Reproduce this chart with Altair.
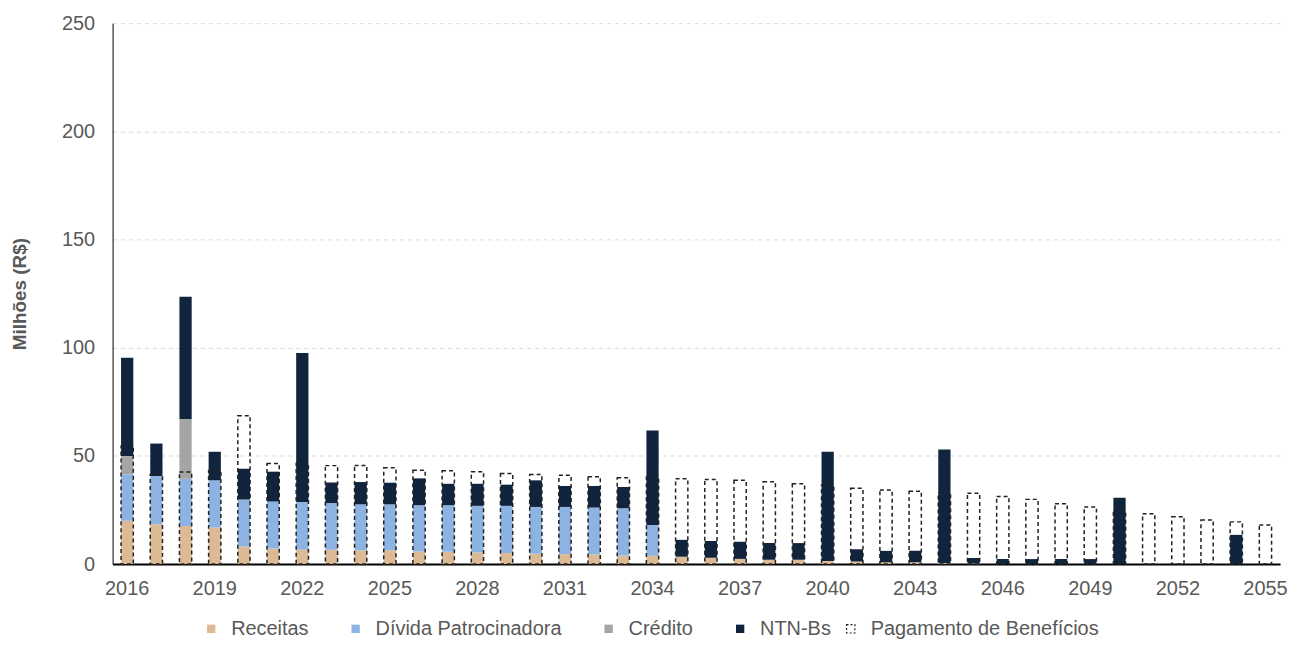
import altair as alt
import pandas as pd

years = list(range(2016, 2056))

receitas = [20.0, 18.4, 17.6, 16.9, 8.1, 7.2, 6.6, 6.6, 6.4, 6.4,
            5.8, 5.7, 5.4, 5.1, 4.8, 4.6, 4.5, 4.0, 3.8, 3.4,
            2.9, 2.4, 2.0, 2.0, 1.4, 1.2, 0.8, 0.8, 0.5, 0.3,
            0, 0, 0, 0, 0, 0, 0, 0, 0, 0]
divida = [21.5, 22.3, 21.8, 21.8, 21.8, 21.7, 22.1, 21.6, 21.2, 21.2,
          21.4, 21.5, 21.5, 21.8, 21.6, 21.8, 21.6, 21.8, 14.3, 0,
          0, 0, 0, 0, 0, 0, 0, 0, 0, 0,
          0, 0, 0, 0, 0, 0, 0, 0, 0, 0]
credito = [8.4, 0, 27.7, 0, 0, 0, 0, 0, 0, 0,
           0, 0, 0, 0, 0, 0, 0, 0, 0, 0,
           0, 0, 0, 0, 0, 0, 0, 0, 0, 0,
           0, 0, 0, 0, 0, 0, 0, 0, 0, 0]
ntnb = [45.5, 15.0, 56.4, 13.2, 14.2, 13.8, 68.8, 9.5, 10.3, 10.0,
        12.4, 9.9, 10.2, 9.8, 12.3, 9.7, 10.0, 9.8, 43.6, 7.8,
        7.8, 7.9, 7.7, 7.7, 50.5, 5.7, 5.3, 5.3, 52.4, 2.5,
        2.3, 2.3, 2.3, 2.3, 30.7, 0, 0, 0, 13.5, 0]
pagamento = [54.5, 41.4, 42.5, 43.3, 68.6, 46.5, 46.5, 45.5, 45.6, 44.5,
             43.4, 43.1, 42.7, 41.9, 41.4, 41.0, 40.4, 39.9, 40.2, 39.4,
             39.1, 38.7, 38.1, 37.1, 36.5, 35.0, 34.2, 33.7, 33.0, 32.7,
             31.2, 29.9, 27.9, 26.4, 24.5, 23.3, 21.9, 20.4, 19.5, 18.0]

series = ["Receitas", "Dívida Patrocinadora", "Crédito", "NTN-Bs"]
colors = ["#DDBA96", "#8DB3E2", "#A5A5A5", "#10243E"]
pag_label = "Pagamento de Benefícios"

rows = []
for i, yr in enumerate(years):
    for k, (name, vals) in enumerate(zip(series, [receitas, divida, credito, ntnb])):
        rows.append({"ano": str(yr), "serie": name, "valor": vals[i], "ordem": k})
stack_df = pd.DataFrame(rows)
pag_df = pd.DataFrame({"ano": [str(y) for y in years], "valor": pagamento,
                       "serie": [pag_label] * len(years)})

FONT = "Liberation Sans"
GRAY = "#595959"

x_enc = alt.X(
    "ano:N",
    sort=[str(y) for y in years],
    scale=alt.Scale(paddingInner=0.58, paddingOuter=0.29),
    axis=alt.Axis(values=[str(y) for y in years[::3]], labelAngle=0, title=None,
                  ticks=False, domainColor="#000000", domainWidth=2,
                  labelFontSize=20, labelColor=GRAY, labelPadding=15, labelFont=FONT),
)

y_enc = alt.Y(
    "valor:Q",
    stack="zero",
    scale=alt.Scale(domain=[0, 250], nice=False),
    axis=alt.Axis(values=[0, 50, 100, 150, 200, 250], title="Milhões (R$)",
                  titleFont=FONT, titleFontSize=19, titleFontWeight="bold",
                  titleColor=GRAY, titlePadding=32,
                  ticks=False, domainColor="#000000", domainWidth=1,
                  labelFontSize=20, labelColor=GRAY, labelPadding=18, labelFont=FONT,
                  grid=True, gridDash=[4, 4], gridColor="#D9D9D9", gridWidth=1),
)

bars = alt.Chart(stack_df).mark_bar().encode(
    x=x_enc,
    y=y_enc,
    color=alt.Color(
        "serie:N",
        scale=alt.Scale(domain=series, range=colors),
        legend=alt.Legend(title=None, orient="none", legendX=89, legendY=598,
                          direction="horizontal", symbolType="square", symbolSize=70,
                          symbolStrokeWidth=0, labelFont=FONT, labelFontSize=20,
                          labelColor=GRAY, labelOffset=10, columnPadding=37,
                          labelLimit=400, padding=0),
    ),
    order=alt.Order("ordem:Q", sort="ascending"),
)

dashed = alt.Chart(pag_df).mark_bar(
    fill="transparent", strokeDash=[4, 3], strokeWidth=1.5
).encode(
    x=alt.X("ano:N", sort=[str(y) for y in years]),
    y=alt.Y("valor:Q", stack=None),
    stroke=alt.Stroke(
        "serie:N",
        scale=alt.Scale(domain=[pag_label], range=["#222222"]),
        legend=alt.Legend(title=None, orient="none", legendX=731, legendY=598,
                          symbolType="square", symbolSize=70, symbolDash=[2, 2],
                          symbolStrokeWidth=1.2, symbolFillColor="white",
                          symbolStrokeColor="#222222",
                          labelFont=FONT, labelFontSize=20, labelColor=GRAY,
                          labelOffset=10, labelLimit=400, padding=0),
    ),
)

chart = alt.layer(bars, dashed).properties(
    width=1172, height=543,
    autosize=alt.AutoSizeParams(type="none"),
    padding={"left": 105, "top": 14, "right": 10, "bottom": 76},
    background="white",
).configure_view(stroke=None)

chart.save("out.html", embed_options={"renderer": "svg", "actions": False})
